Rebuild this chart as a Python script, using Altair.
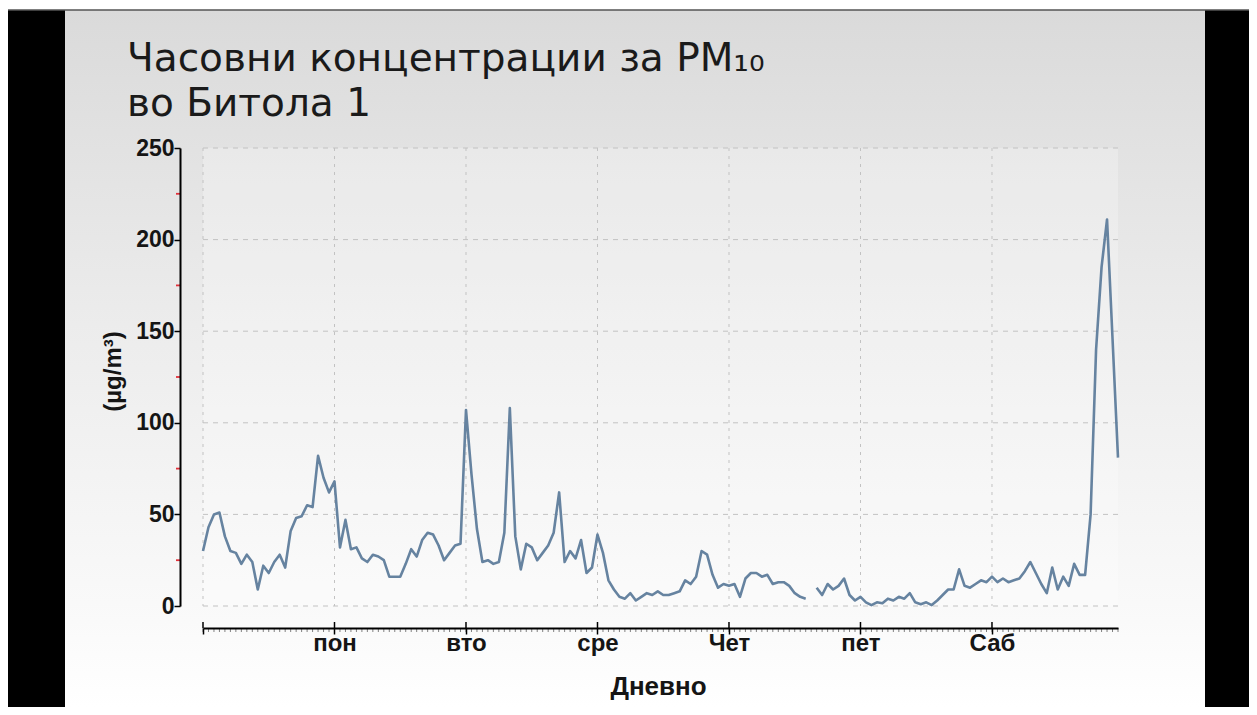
import altair as alt
import pandas as pd

# ---------------- data ----------------
hours = list(range(168))
pm10 = [30, 43, 50, 51, 38, 30, 29, 23, 28, 24, 9, 22, 18, 24, 28, 21, 41, 48, 49, 55, 54, 82, 70, 62,
        68, 32, 47, 31, 32, 26, 24, 28, 27, 25, 16, 16, 16, 23, 31, 27, 36, 40, 39, 33, 25, 29, 33, 34,
        107, 72, 42, 24, 25, 23, 24, 40, 108, 38, 20, 34, 32, 25, 29, 33, 40, 62, 24, 30, 26, 36, 18, 21,
        39, 29, 14, 9, 5, 4, 7, 3, 5, 7, 6, 8, 6, 6, 7, 8, 14, 12, 16, 30, 28, 17, 10, 12,
        11, 12, 5, 15, 18, 18, 16, 17, 12, 13, 13, 11, 7, 5, 4, None, 10, 6, 12, 9, 11, 15, 6, 3,
        5, 2, 0.5, 2, 1.5, 4, 3, 5, 4, 7, 2, 1, 2, 0.5, 3, 6, 9, 9, 20, 11, 10, 12, 14, 13,
        16, 13, 15, 13, 14, 15, 19, 24, 18, 12, 7, 21, 9, 16, 11, 23, 17, 17, 50, 140, 185, 211, 146, 81]

day_ticks = [0, 24, 48, 72, 96, 120, 144]
day_names = ["", "пон", "вто", "сре", "Чет", "пет", "Саб"]
y_major = [0, 50, 100, 150, 200, 250]
y_minor = [25, 75, 125, 175, 225]
title_lines = ["Часовни концентрации за PM₁₀", "во Битола 1"]
x_title = "Дневно"
y_title = "(µg/m³)"

# ---------------- layout ----------------
W, H = 915, 458
FONT = "Liberation Sans"

df = pd.DataFrame({"hour": hours, "pm10": pm10})
df["segment"] = df["pm10"].isna().cumsum()
df = df.dropna()

xscale = alt.Scale(domain=[0, 167], nice=False, zero=False)
yscale = alt.Scale(domain=[0, 250], nice=False)

label_expr = "[" + ",".join("'%s'" % n for n in day_names) + "][round(datum.value/24)]"

xaxis = alt.Axis(values=day_ticks, labelExpr=label_expr, title=x_title,
                 offset=22, grid=False, zindex=1,
                 domainColor="black", domainWidth=2,
                 tickColor="black", tickWidth=1.5, tickSize=6,
                 labelFont=FONT, labelFontWeight="bold", labelFontSize=24,
                 labelColor="#151515", labelBaseline="alphabetic", labelPadding=16,
                 labelFlush=False, labelOverlap=False,
                 titleFont=FONT, titleFontWeight="bold", titleFontSize=26,
                 titleColor="#151515", titleBaseline="alphabetic",
                 titleX=455, titleY=66)
yaxis = alt.Axis(values=y_major, title=y_title, offset=23, grid=False, zindex=1,
                 domainColor="black", domainWidth=2,
                 tickColor="black", tickWidth=1.5, tickSize=6,
                 labelFont=FONT, labelFontWeight="bold", labelFontSize=23,
                 labelColor="#151515", labelPadding=0,
                 titleFont=FONT, titleFontWeight="bold", titleFontSize=24,
                 titleColor="#151515", titleAngle=270, titleAlign="center",
                 titleBaseline="middle", titleX=-67, titleY=223)

one = pd.DataFrame({"k": [0]})

gradient = alt.LinearGradient(
    gradient="linear",
    stops=[alt.GradientStop(color="#dadada", offset=0),
           alt.GradientStop(color="#ececec", offset=0.45),
           alt.GradientStop(color="#f9f9f9", offset=0.85),
           alt.GradientStop(color="#ffffff", offset=1)],
    x1=0, x2=0, y1=0, y2=1)

left_black = alt.Chart(one).mark_rect(color="black").encode(
    x=alt.value(-210), x2=alt.value(-138), y=alt.value(-138), y2=alt.value(570))
right_black = alt.Chart(one).mark_rect(color="black").encode(
    x=alt.value(1002), x2=alt.value(1070), y=alt.value(-138), y2=alt.value(570))
panel = alt.Chart(one).mark_rect(fill=gradient).encode(
    x=alt.value(-138), x2=alt.value(1002), y=alt.value(-138), y2=alt.value(560))
top_line = alt.Chart(one).mark_rule(color="#555555", strokeWidth=1.5).encode(
    x=alt.value(-210), x2=alt.value(1070), y=alt.value(-138))
plot_fill = alt.Chart(one).mark_rect(color="white", opacity=0.25).encode(
    x=alt.value(0), x2=alt.value(W), y=alt.value(0), y2=alt.value(H))

line = alt.Chart(df).mark_line(color="#6683a0", strokeWidth=2.6, strokeJoin="round").encode(
    x=alt.X("hour:Q", scale=xscale, axis=xaxis),
    y=alt.Y("pm10:Q", scale=yscale, axis=yaxis),
    detail="segment:N",
)

hgrid = alt.Chart(pd.DataFrame({"pm10": y_major})).mark_rule(
    color="#c2c2c2", strokeDash=[5, 5], strokeWidth=1).encode(
    y=alt.Y("pm10:Q", scale=yscale, axis=yaxis), x=alt.value(0), x2=alt.value(W))
vgrid = alt.Chart(pd.DataFrame({"hour": day_ticks})).mark_rule(
    color="#c2c2c2", strokeDash=[3, 5], strokeWidth=1).encode(
    x=alt.X("hour:Q", scale=xscale, axis=xaxis), y=alt.value(0), y2=alt.value(H))

minor_x = alt.Chart(pd.DataFrame({"hour": hours})).mark_rule(color="#808080", strokeWidth=1).encode(
    x=alt.X("hour:Q", scale=xscale, axis=xaxis), y=alt.value(H + 22), y2=alt.value(H + 26))
major_up = alt.Chart(pd.DataFrame({"hour": day_ticks})).mark_rule(color="black", strokeWidth=1.5).encode(
    x=alt.X("hour:Q", scale=xscale, axis=xaxis), y=alt.value(H + 16), y2=alt.value(H + 22))
red_y = alt.Chart(pd.DataFrame({"pm10": y_minor})).mark_rule(color="#e0303a", strokeWidth=1.8).encode(
    y=alt.Y("pm10:Q", scale=yscale, axis=yaxis), x=alt.value(-27), x2=alt.value(-23))

title = alt.Chart(one).mark_text(
    text=title_lines, align="left", baseline="alphabetic", font="DejaVu Sans",
    fontSize=39, lineHeight=45, color="#1a1a1a").encode(
    x=alt.value(-76), y=alt.value(-77))

chart = alt.layer(
    left_black, right_black, panel, top_line, plot_fill, hgrid, vgrid,
    line, minor_x, major_up, red_y, title
).properties(
    width=W, height=H,
    autosize=alt.AutoSizeParams(type="none"),
    padding={"left": 195, "top": 140, "right": 131, "bottom": 101},
    background="white",
).configure_view(strokeWidth=0)

chart.save("out.html", embed_options={"renderer": "svg", "actions": False})
